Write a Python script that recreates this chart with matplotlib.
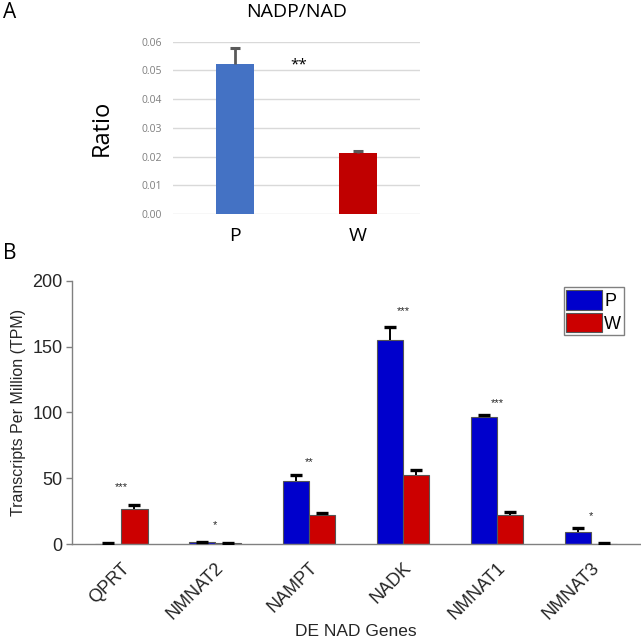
import matplotlib
matplotlib.use("Agg")
import matplotlib.pyplot as plt
import numpy as np

# ---- Panel A data ----
a_groups = ["P", "W"]
a_vals = [0.0523, 0.0213]
a_err = [0.0054, 0.0006]
a_colors = ["#4472C4", "#C00000"]
a_ticks = [0.00, 0.01, 0.02, 0.03, 0.04, 0.05, 0.06]

# ---- Panel B data ----
genes = ["QPRT", "NMNAT2", "NAMPT", "NADK", "NMNAT1", "NMNAT3"]
p_vals = [0.3, 1.3, 47.8, 155.2, 96.7, 8.9]
p_err = [0.3, 0.5, 4.9, 9.4, 1.3, 3.5]
w_vals = [26.6, 0.8, 22.3, 52.2, 21.8, 0.3]
w_err = [2.8, 0.3, 1.2, 4.3, 2.8, 0.3]
stars = ["***", "*", "**", "***", "***", "*"]
star_y = [43, 14.5, 62.5, 177, 107, 21]
b_ticks = [0, 50, 100, 150, 200]


def up_errorbar(ax, x, y, err, **kw):
    cont = ax.errorbar(x, y, yerr=[np.zeros(len(err)), err], fmt="none", **kw)
    caps = cont[1]
    if len(caps) == 2:
        caps[0].set_visible(False)
    return cont


fig = plt.figure(figsize=(6.41, 6.41), dpi=100)

# ---------------- Panel A ----------------
axA = fig.add_axes([0.270, 0.666, 0.385, 0.269])
xa = np.arange(len(a_groups))
axA.bar(xa, a_vals, width=0.31, color=a_colors, zorder=3)
up_errorbar(axA, xa, a_vals, a_err, ecolor="#595959", elinewidth=2,
            capsize=3.5, capthick=2.2, zorder=4)
axA.set_xlim(-0.5, 1.5)
axA.set_ylim(0, 0.06)
axA.set_yticks(a_ticks)
axA.set_yticklabels([f"{t:.2f}" for t in a_ticks], color="#7F7F7F",
                    fontsize=7.5, family="Open Sans")
axA.set_xticks(xa)
axA.set_xticklabels(a_groups, fontsize=14, family="Open Sans", color="black")
axA.tick_params(axis="both", length=0)
axA.tick_params(axis="x", pad=9)
axA.tick_params(axis="y", pad=8)
axA.yaxis.grid(True, color="#D9D9D9", linewidth=1, zorder=0)
for s in axA.spines.values():
    s.set_visible(False)
axA.set_ylabel("Ratio", fontsize=17, family="Open Sans", labelpad=20)
axA.set_title("NADP/NAD", fontsize=14, family="Open Sans", pad=18)
axA.text(0.52, 0.052, "**", fontsize=11, family="Open Sans", ha="center",
         va="center")

fig.text(0.004, 0.981, "A", fontsize=15, family="Open Sans", va="center")
fig.text(0.004, 0.605, "B", fontsize=15, family="Open Sans", va="center")

# ---------------- Panel B ----------------
axB = fig.add_axes([0.113, 0.151, 0.885, 0.411])
xb = np.arange(1, len(genes) + 1)
bw = 0.28
axB.bar(xb - bw / 2, p_vals, width=bw, color="#0000CC", edgecolor="#555555",
        linewidth=0.8, label="P", zorder=2)
axB.bar(xb + bw / 2, w_vals, width=bw, color="#CC0000", edgecolor="#555555",
        linewidth=0.8, label="W", zorder=2)
up_errorbar(axB, xb - bw / 2, p_vals, p_err, ecolor="black", elinewidth=1.4,
            capsize=4, capthick=2.4, zorder=3)
up_errorbar(axB, xb + bw / 2, w_vals, w_err, ecolor="black", elinewidth=1.4,
            capsize=4, capthick=2.4, zorder=3)
for xi, s, yv in zip(xb, stars, star_y):
    axB.text(xi, yv, s, fontsize=8, ha="center", va="center",
             family="Liberation Sans", color="#262626")

axB.set_xlim(0.48, 6.52)
axB.set_ylim(0, 200)
axB.set_yticks(b_ticks)
axB.set_yticklabels([str(t) for t in b_ticks], fontsize=13,
                    family="Liberation Sans", color="#262626")
axB.set_xticks(xb)
axB.set_xticklabels(genes, rotation=45, ha="right", rotation_mode="anchor",
                    fontsize=13, family="Liberation Sans", color="#262626")
axB.tick_params(axis="x", length=0, pad=11)
axB.tick_params(axis="y", length=4, width=1, color="#808080", direction="out",
                pad=3)
for side in ["top", "right"]:
    axB.spines[side].set_visible(False)
for side in ["left", "bottom"]:
    axB.spines[side].set_color("#808080")
    axB.spines[side].set_linewidth(1)
axB.set_ylabel("Transcripts Per Million (TPM)", fontsize=11.5,
               family="Liberation Sans", color="#262626", labelpad=5)
axB.set_xlabel("DE NAD Genes", fontsize=12.5, family="Liberation Sans",
               color="#262626", labelpad=1)
leg = axB.legend(loc="upper right", bbox_to_anchor=(0.972, 0.975),
                 prop={"family": "Liberation Sans", "size": 13},
                 fancybox=False, framealpha=1, edgecolor="#808080",
                 handlelength=2.0, handleheight=1.3, handletextpad=0.1,
                 borderpad=0.15, labelspacing=0.15, borderaxespad=0.0)
leg.get_frame().set_linewidth(1)
for h in leg.legend_handles:
    h.set_edgecolor("#555555")

fig.savefig("out.png", dpi=100)
